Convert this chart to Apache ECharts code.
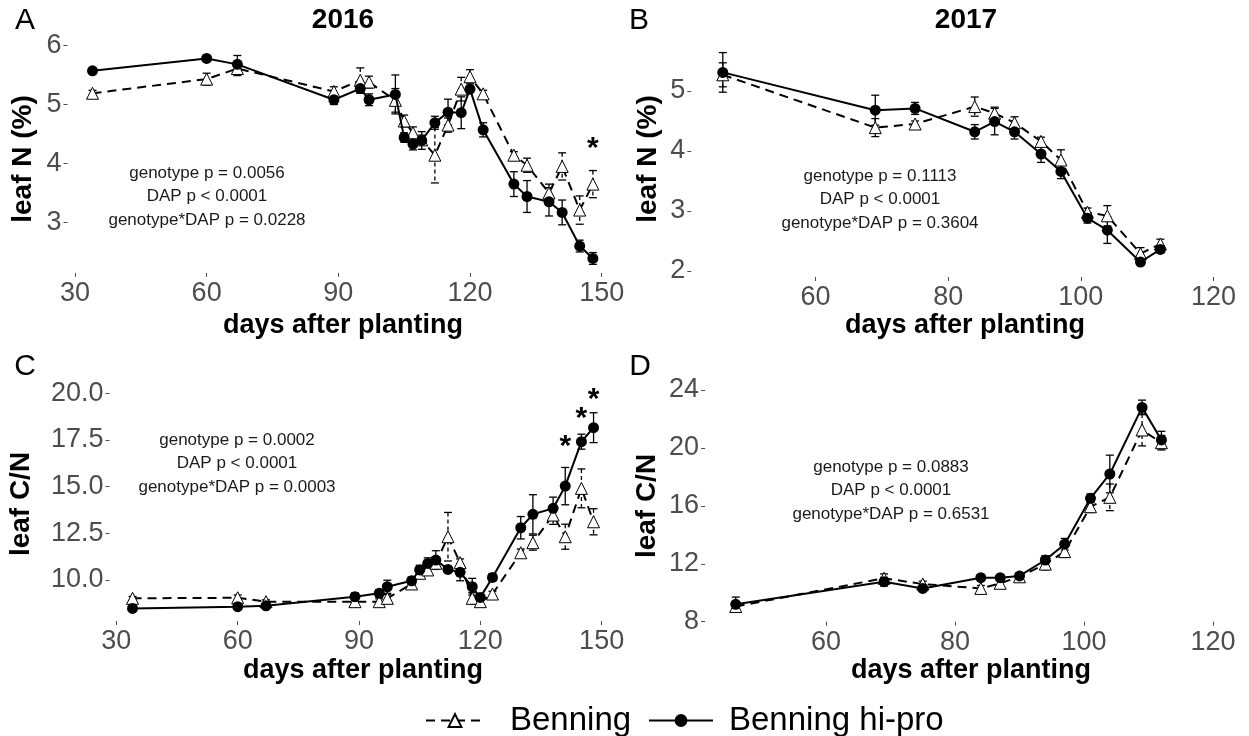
<!DOCTYPE html>
<html>
<head>
<meta charset="utf-8">
<script src="https://cdn.jsdelivr.net/npm/echarts@6/dist/echarts.min.js"></script>
<style>html,body{margin:0;padding:0;background:#fff}#c{width:1249px;height:736px}</style>
</head>
<body>
<div id="c"></div>
<script>
// ---------- DATA ----------
const days2016 = [34, 60, 67, 89, 95, 97, 103, 105, 107, 109, 112, 115, 118, 120, 123, 130, 133, 138, 141, 145, 148];
const days2017 = [46, 69, 75, 84, 87, 90, 94, 97, 101, 104, 109, 112];

// Panel A: leaf N (%) 2016
const leafN2016Benning   = [5.19, 5.43, 5.61, 5.22, 5.41, 5.38, 5.07, 4.72, 4.52, 4.40, 4.14, 4.65, 5.26, 5.47, 5.18, 4.14, 3.97, 3.50, 3.95, 3.21, 3.65];
const leafN2016BenningSE = [0.05, 0.10, 0.12, 0.08, 0.21, 0.10, 0.20, 0.10, 0.10, 0.08, 0.47, 0.12, 0.20, 0.12, 0.06, 0.06, 0.12, 0.15, 0.23, 0.24, 0.23];
const leafN2016HiPro     = [5.57, 5.78, 5.68, 5.08, 5.27, 5.08, 5.17, 4.44, 4.33, 4.39, 4.69, 4.87, 4.86, 5.26, 4.57, 3.65, 3.44, 3.35, 3.17, 2.60, 2.39];
const leafN2016HiProSE   = [0.03, 0.05, 0.15, 0.08, 0.08, 0.10, 0.33, 0.08, 0.10, 0.15, 0.11, 0.22, 0.27, 0.05, 0.12, 0.21, 0.27, 0.24, 0.21, 0.10, 0.10];

// Panel B: leaf N (%) 2017
const leafN2017Benning   = [5.27, 4.39, 4.45, 4.74, 4.63, 4.47, 4.16, 3.85, 2.98, 2.92, 2.29, 2.45];
const leafN2017BenningSE = [0.20, 0.15, 0.05, 0.16, 0.10, 0.10, 0.07, 0.17, 0.07, 0.17, 0.10, 0.08];
const leafN2017HiPro     = [5.31, 4.68, 4.71, 4.32, 4.49, 4.32, 3.95, 3.66, 2.88, 2.68, 2.15, 2.36];
const leafN2017HiProSE   = [0.33, 0.25, 0.10, 0.12, 0.22, 0.12, 0.14, 0.12, 0.08, 0.22, 0.05, 0.06];

// Panel C: leaf C/N 2016
const leafCN2016Benning   = [9.02, 9.05, 8.84, 8.84, 8.84, 9.02, 9.79, 10.36, 10.54, 10.90, 12.32, 10.93, 9.02, 8.84, 9.25, 11.46, 12.00, 13.48, 12.32, 14.91, 13.12];
const leafCN2016BenningSE = [0.10, 0.15, 0.10, 0.15, 0.15, 0.20, 0.20, 0.20, 0.20, 0.20, 1.30, 0.20, 0.30, 0.20, 0.15, 0.20, 0.40, 0.50, 0.67, 1.04, 0.70];
const leafCN2016HiPro     = [8.48, 8.57, 8.62, 9.11, 9.29, 9.64, 9.96, 10.54, 10.89, 11.07, 10.57, 10.41, 9.64, 9.07, 10.14, 12.80, 13.52, 13.84, 15.03, 17.41, 18.16];
const leafCN2016HiProSE   = [0.10, 0.10, 0.15, 0.20, 0.20, 0.35, 0.20, 0.25, 0.30, 0.50, 0.15, 0.45, 0.45, 0.15, 0.20, 0.60, 1.05, 0.60, 1.00, 0.40, 0.80];

// Panel D: leaf C/N 2017
const leafCN2017Benning   = [9.05, 11.00, 10.60, 10.30, 10.65, 11.10, 11.98, 12.84, 15.94, 16.59, 21.24, 20.36];
const leafCN2017BenningSE = [0.30, 0.30, 0.20, 0.20, 0.30, 0.20, 0.40, 0.40, 0.40, 0.92, 1.10, 0.50];
const leafCN2017HiPro     = [9.20, 10.76, 10.30, 11.04, 11.04, 11.16, 12.26, 13.35, 16.52, 18.20, 22.80, 20.55];
const leafCN2017HiProSE   = [0.50, 0.30, 0.20, 0.20, 0.20, 0.20, 0.30, 0.40, 0.30, 1.30, 0.50, 0.60];

// significance marks
const sig2016N  = [[148, 4.34]];
const sig2016CN = [[141, 17.41], [145, 18.89], [148, 19.91]];

// tick labels
const xTicks2016 = [30, 60, 90, 120, 150];
const xTicks2017 = [60, 80, 100, 120];
const yTicksA = [3, 4, 5, 6];
const yTicksB = [2, 3, 4, 5];
const yTicksC = [10, 12.5, 15, 17.5, 20];
const yTicksD = [8, 12, 16, 20, 24];

// text
const panelLetters = ['A', 'B', 'C', 'D'];
const yearTitles = ['2016', '2017'];
const yTitles = ['leaf N (%)', 'leaf N (%)', 'leaf C/N', 'leaf C/N'];
const xTitle = 'days after planting';
const statsA = ['genotype p = 0.0056', 'DAP p < 0.0001', 'genotype*DAP p = 0.0228'];
const statsB = ['genotype p = 0.1113', 'DAP p < 0.0001', 'genotype*DAP p = 0.3604'];
const statsC = ['genotype p = 0.0002', 'DAP p < 0.0001', 'genotype*DAP p = 0.0003'];
const statsD = ['genotype p = 0.0883', 'DAP p < 0.0001', 'genotype*DAP p = 0.6531'];
const seriesNames = ['Benning', 'Benning hi-pro'];

// ---------- CHART ----------
const FONT = "'Liberation Sans', Arial, Helvetica, sans-serif";
const panels = [
  {grid:{left:67.5, top:44.3, width:550.4, height:228.6}, xMin:28.3, xMax:153.7, yMin:2.145, yMax:6.02,
   xTicks:xTicks2016, yTicks:yTicksA, days:days2016, ben:leafN2016Benning, benSE:leafN2016BenningSE, hi:leafN2016HiPro, hiSE:leafN2016HiProSE, sig:sig2016N, fmt:v=>String(v)},
  {grid:{left:691.3, top:41.8, width:547.0, height:235.2}, xMin:41.25, xMax:123.75, yMin:1.9, yMax:5.82,
   xTicks:xTicks2017, yTicks:yTicksB, days:days2017, ben:leafN2017Benning, benSE:leafN2017BenningSE, hi:leafN2017HiPro, hiSE:leafN2017HiProSE, sig:[], fmt:v=>String(v)},
  {grid:{left:109.5, top:384.0, width:507.1, height:237.1}, xMin:28.3, xMax:153.7, yMin:7.8, yMax:20.5,
   xTicks:xTicks2016, yTicks:yTicksC, days:days2016, ben:leafCN2016Benning, benSE:leafCN2016BenningSE, hi:leafCN2016HiPro, hiSE:leafCN2016HiProSE, sig:sig2016CN, fmt:v=>v.toFixed(1)},
  {grid:{left:705.1, top:390.0, width:532.1, height:231.7}, xMin:41.25, xMax:123.75, yMin:8.0, yMax:24.0,
   xTicks:xTicks2017, yTicks:yTicksD, days:days2017, ben:leafCN2017Benning, benSE:leafCN2017BenningSE, hi:leafCN2017HiPro, hiSE:leafCN2017HiProSE, sig:[], fmt:v=>String(v)}
];

function errRender(dash) {
  return function (params, api) {
    const x = api.value(0), y = api.value(1), e = api.value(2);
    const p1 = api.coord([x, y + e]), p2 = api.coord([x, y - e]);
    const w = 4;
    const st = {stroke:'#000', lineWidth:1.3};
    return {type:'group', children:[
      {type:'line', shape:{x1:p1[0], y1:p1[1], x2:p2[0], y2:p2[1]}, style:Object.assign({lineDash:dash}, st)},
      {type:'line', shape:{x1:p1[0]-w, y1:p1[1], x2:p1[0]+w, y2:p1[1]}, style:st},
      {type:'line', shape:{x1:p2[0]-w, y1:p2[1], x2:p2[0]+w, y2:p2[1]}, style:st}
    ]};
  };
}

const grids = [], xAxes = [], yAxes = [], series = [];
panels.forEach((p, i) => {
  grids.push(Object.assign({containLabel:false}, p.grid));
  xAxes.push({type:'value', gridIndex:i, min:p.xMin, max:p.xMax,
    axisLine:{show:false}, splitLine:{show:false},
    axisTick:{show:true, length:4, customValues:p.xTicks, lineStyle:{color:'#4d4d4d', width:1}},
    axisLabel:{show:true, customValues:p.xTicks, margin:7, fontSize:27, color:'#4d4d4d', fontFamily:FONT}});
  yAxes.push({type:'value', gridIndex:i, min:p.yMin, max:p.yMax,
    axisLine:{show:false}, splitLine:{show:false},
    axisTick:{show:true, length:4, customValues:p.yTicks, lineStyle:{color:'#4d4d4d', width:1}},
    axisLabel:{show:true, customValues:p.yTicks, margin:6, fontSize:27, color:'#4d4d4d', fontFamily:FONT, formatter:p.fmt}});
  const benData = p.days.map((d, k) => [d, p.ben[k]]);
  const hiData = p.days.map((d, k) => [d, p.hi[k]]);
  series.push({name:seriesNames[0], type:'line', xAxisIndex:i, yAxisIndex:i, data:benData, clip:false, z:3,
    symbol:'triangle', symbolSize:12, itemStyle:{color:'#fff', borderColor:'#000', borderWidth:1},
    lineStyle:{color:'#000', width:2, type:[9, 6]}, emphasis:{disabled:true}});
  series.push({name:seriesNames[1], type:'line', xAxisIndex:i, yAxisIndex:i, data:hiData, clip:false, z:4,
    symbol:'circle', symbolSize:11, itemStyle:{color:'#000'},
    lineStyle:{color:'#000', width:2, type:'solid'}, emphasis:{disabled:true}});
  series.push({name:'Benning SE', type:'custom', xAxisIndex:i, yAxisIndex:i, z:2, clip:false,
    data:p.days.map((d, k) => [d, p.ben[k], p.benSE[k]]), encode:{x:0, y:1}, renderItem:errRender([4, 3])});
  series.push({name:'Benning hi-pro SE', type:'custom', xAxisIndex:i, yAxisIndex:i, z:2, clip:false,
    data:p.days.map((d, k) => [d, p.hi[k], p.hiSE[k]]), encode:{x:0, y:1}, renderItem:errRender(null)});
  if (p.sig.length) {
    series.push({name:'sig', type:'scatter', xAxisIndex:i, yAxisIndex:i, data:p.sig, z:5,
      symbol:'circle', symbolSize:2, itemStyle:{color:'rgba(0,0,0,0)'}, emphasis:{disabled:true},
      label:{show:true, position:'inside', formatter:'*', fontSize:30, fontWeight:'bold', color:'#000', opacity:1, fontFamily:FONT, offset:[0, 5]}});
  }
});

function txt(x, y, text, font, extra, fill) {
  return Object.assign({type:'text', x:x, y:y, silent:true,
    style:{text:text, font:font, textAlign:'center', textVerticalAlign:'middle', fill:fill || '#000'}}, extra || {});
}
const graphics = [];
const letterPos = [[25, 21], [639, 21], [25, 367], [640, 367]];
panelLetters.forEach((l, i) => graphics.push(txt(letterPos[i][0], letterPos[i][1], l, '30px ' + FONT)));
graphics.push(txt(343, 20, yearTitles[0], 'bold 28px ' + FONT));
graphics.push(txt(966, 20, yearTitles[1], 'bold 28px ' + FONT));
const yTitlePos = [[23, 159], [648, 159], [21, 504], [647, 506]];
yTitles.forEach((t, i) => graphics.push(txt(yTitlePos[i][0], yTitlePos[i][1], t, 'bold 28px ' + FONT, {rotation:Math.PI / 2})));
const xTitlePos = [[343, 326], [965, 326], [363, 671], [971, 671]];
xTitlePos.forEach(pt => graphics.push(txt(pt[0], pt[1], xTitle, 'bold 27px ' + FONT)));
const statsPos = [[207, 173, statsA], [880, 176, statsB], [237, 440, statsC], [891, 467, statsD]];
statsPos.forEach(s => s[2].forEach((line, k) => graphics.push(txt(s[0], s[1] + k * 23.5, line, '17px ' + FONT, null, '#1a1a1a'))));

const option = {
  animation:false,
  backgroundColor:'#fff',
  grid:grids, xAxis:xAxes, yAxis:yAxes, series:series,
  legend:[
    {data:[seriesNames[0]], left:420, top:699, itemWidth:58, itemHeight:16, selectedMode:false,
     textStyle:{fontSize:33, color:'#000', fontFamily:FONT, padding:[0, 0, 0, 21]}},
    {data:[seriesNames[1]], left:643, top:699, itemWidth:64, itemHeight:16, selectedMode:false,
     textStyle:{fontSize:33, color:'#000', fontFamily:FONT, padding:[0, 0, 0, 11]}}
  ],
  graphic:graphics
};
const chart = echarts.init(document.getElementById('c'), null, {renderer:'canvas'});
chart.setOption(option);
</script>
</body>
</html>
